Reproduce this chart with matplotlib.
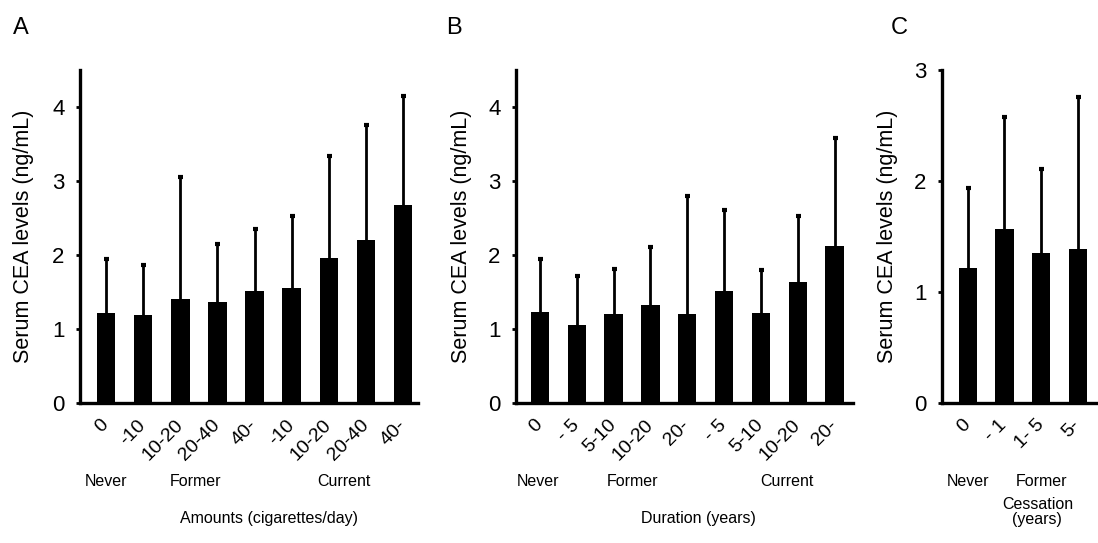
import matplotlib
matplotlib.use("Agg")
import matplotlib.pyplot as plt
import matplotlib.transforms as mtransforms

# Data (mean and upper end of the error bar)
amount_labels = ["0", "-10", "10-20", "20-40", "40-", "-10", "10-20", "20-40", "40-"]
amount_mean = [1.22, 1.19, 1.40, 1.37, 1.51, 1.55, 1.96, 2.20, 2.68]
amount_top = [1.95, 1.87, 3.06, 2.15, 2.35, 2.53, 3.34, 3.76, 4.15]

duration_labels = ["0", "- 5", "5-10", "10-20", "20-", "- 5", "5-10", "10-20", "20-"]
duration_mean = [1.23, 1.06, 1.20, 1.33, 1.20, 1.52, 1.22, 1.63, 2.12]
duration_top = [1.94, 1.72, 1.81, 2.11, 2.80, 2.61, 1.80, 2.53, 3.58]

cessation_labels = ["0", "- 1", "1- 5", "5-"]
cessation_mean = [1.22, 1.57, 1.35, 1.39]
cessation_top = [1.94, 2.58, 2.11, 2.76]

plt.rcParams['font.family'] = ['Liberation Sans', 'DejaVu Sans']

W, H = 1098, 543
fig = plt.figure(figsize=(W / 100, H / 100), dpi=100)


def px_axes(x0, x1, y0, y1):
    return fig.add_axes([x0 / W, 1 - y1 / H, (x1 - x0) / W, (y1 - y0) / H])


def draw_panel(ax, labels, mean, top, ymax, yticks, xlim, groups, title, letter):
    x = list(range(len(mean)))
    err = [t - m for t, m in zip(top, mean)]
    ax.bar(x, mean, width=0.5, color="black")
    eb = ax.errorbar(x, mean, yerr=[[0] * len(mean), err], fmt="none", ecolor="black",
                     elinewidth=2.0, capsize=1.8, capthick=3)
    # only the upper cap is drawn in the original
    eb[1][0].set_visible(False)
    ax.set_xlim(*xlim)
    ax.set_ylim(0, ymax)
    ax.set_yticks(yticks)
    ax.set_yticklabels([str(t) for t in yticks], fontsize=16)
    ax.set_xticks(x)
    ax.set_xticklabels(labels, fontsize=14, rotation=45, ha="right", va="center",
                       rotation_mode="anchor")
    # nudge the rotated labels a little to the right, as in the original
    offset = mtransforms.ScaledTranslation(5 / 100, 0, fig.dpi_scale_trans)
    for lab in ax.get_xticklabels():
        lab.set_transform(lab.get_transform() + offset)
    ax.tick_params(axis="x", length=0, pad=14)
    ax.tick_params(axis="y", length=3, width=2, direction="out", pad=8)
    for s in ["top", "right"]:
        ax.spines[s].set_visible(False)
    for s in ["left", "bottom"]:
        ax.spines[s].set_linewidth(2.4)
    ax.set_ylabel("Serum CEA levels (ng/mL)", fontsize=15.5)

    trans = mtransforms.blended_transform_factory(ax.transData, fig.transFigure)
    for name, gx in groups:
        ax.text(gx, 1 - 482 / H, name, transform=trans, ha="center", va="center",
                fontsize=11.5)
    tx, ty, ttext = title
    ax.text(tx, ty, ttext, transform=trans, ha="center", va="center", fontsize=11.5,
            linespacing=1.0)
    ax.text(letter[1], 1 - 28 / H, letter[0], transform=fig.transFigure,
            ha="left", va="center", fontsize=17)


axA = px_axes(80, 418, 70, 403)
draw_panel(axA, amount_labels, amount_mean, amount_top, 4.5, [0, 1, 2, 3, 4],
           (-0.7, 8.4), [("Never", 0), ("Former", 2.4), ("Current", 6.4)],
           (4.4, 1 - 519 / H, "Amounts (cigarettes/day)"), ("A", 13 / W))
axA.yaxis.set_label_coords(-0.135, 0.5)

axB = px_axes(516, 853, 70, 403)
draw_panel(axB, duration_labels, duration_mean, duration_top, 4.5, [0, 1, 2, 3, 4],
           (-0.65, 8.5), [("Never", -0.05), ("Former", 2.5), ("Current", 6.7)],
           (4.3, 1 - 519 / H, "Duration (years)"), ("B", 446 / W))
axB.yaxis.set_label_coords(-0.13, 0.5)

axC = px_axes(942, 1098, 70, 403)
draw_panel(axC, cessation_labels, cessation_mean, cessation_top, 3.0, [0, 1, 2, 3],
           (-0.7, 3.55), [("Never", 0), ("Former", 2.0)],
           (1.9, 1 - 512 / H, "Cessation\n(years)"), ("C", 891 / W))
axC.yaxis.set_label_coords(-0.28, 0.5)

fig.savefig("out.png", dpi=100)
